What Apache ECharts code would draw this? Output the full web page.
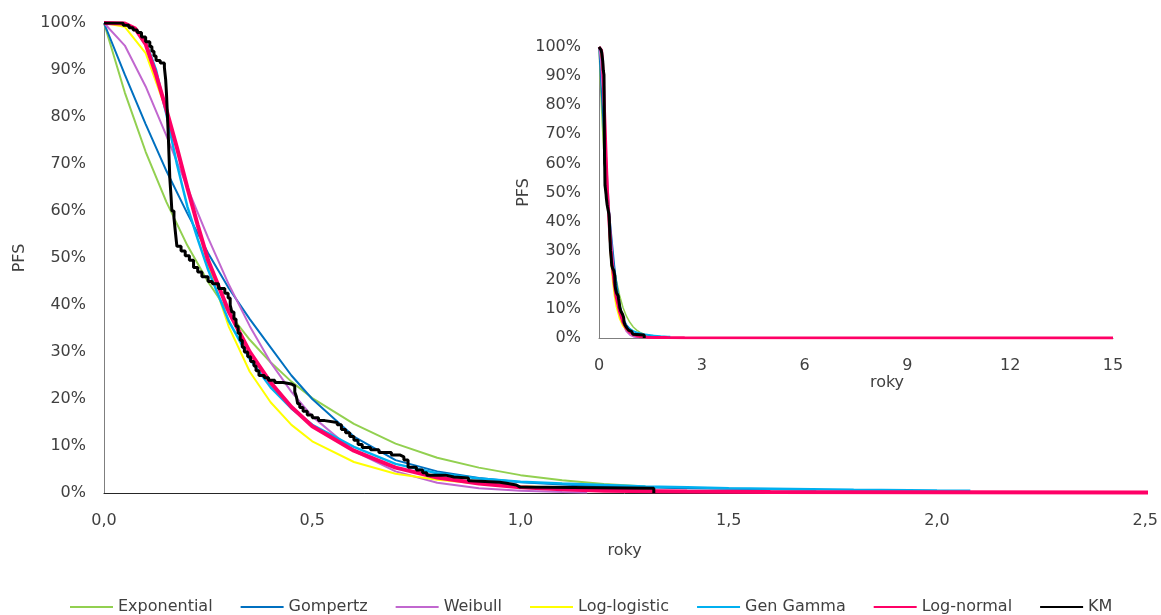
<!DOCTYPE html>
<html>
<head>
<meta charset="utf-8">
<script src="https://cdn.jsdelivr.net/npm/echarts@6/dist/echarts.min.js"></script>
<style>
  html, body { margin: 0; padding: 0; background: #ffffff; }
  #chart { width: 1161px; height: 615px; }
</style>
</head>
<body>
<div id="chart"></div>
<script>
// Survival (PFS, %) against time in years for each fitted model and the Kaplan–Meier estimate.

const expT  = [0, 0.05, 0.1, 0.15, 0.2, 0.25, 0.3, 0.35, 0.4, 0.45, 0.5, 0.6, 0.7, 0.8, 0.9, 1.0, 1.1, 1.2, 1.3];
const expS  = [100, 85.2, 72.6, 61.9, 52.7, 44.9, 38.3, 32.6, 27.8, 23.7, 20.2, 14.7, 10.5, 7.5, 5.4, 3.8, 2.7, 1.9, 1.4];

const gompT = [0, 0.05, 0.1, 0.15, 0.2, 0.25, 0.3, 0.35, 0.4, 0.45, 0.5, 0.6, 0.7, 0.8, 0.9, 1.0, 1.1, 1.2, 1.4, 1.6, 1.71];
const gompS = [100, 89, 78.5, 68.5, 59.5, 51, 43.5, 37, 31, 25, 20, 12, 7.0, 4.6, 3.2, 2.3, 1.8, 1.4, 1.0, 0.8, 0.7];

const weibT = [0, 0.05, 0.1, 0.15, 0.2, 0.25, 0.3, 0.35, 0.4, 0.45, 0.5, 0.6, 0.7, 0.8, 0.9, 1.0, 1.1, 1.16];
const weibS = [100, 95.2, 86.5, 76.0, 65.0, 54.3, 44.3, 35.5, 27.8, 21.5, 16.3, 8.9, 4.6, 2.2, 1.0, 0.46, 0.2, 0.12];

const llogT = [0, 0.05, 0.1, 0.15, 0.2, 0.25, 0.3, 0.35, 0.4, 0.45, 0.5, 0.6, 0.7, 0.8, 0.9, 1.0, 1.1, 1.2, 1.3];
const llogS = [100, 99.2, 93.6, 81.3, 64.8, 48.5, 35.3, 25.8, 19.3, 14.5, 11.0, 6.6, 4.1, 2.8, 2.0, 1.45, 1.1, 0.84, 0.66];

const ggamT = [0, 0.05, 0.075, 0.1, 0.125, 0.15, 0.175, 0.2, 0.225, 0.25, 0.3, 0.35, 0.4, 0.45, 0.5, 0.6, 0.7, 0.8, 0.9, 1.0, 1.1, 1.2, 1.3, 1.4, 1.5, 1.6, 1.8, 2.0, 2.08];
const ggamS = [100, 99.8, 98.8, 96, 90, 80.5, 70, 61, 54, 47.5, 36.5, 28.5, 22.5, 18, 14.5, 9.8, 6.2, 4.2, 3.1, 2.4, 2.0, 1.7, 1.4, 1.2, 1.0, 0.9, 0.7, 0.55, 0.5];

const lnorT = [0, 0.05, 0.075, 0.1, 0.125, 0.15, 0.175, 0.2, 0.225, 0.25, 0.3, 0.35, 0.4, 0.45, 0.5, 0.6, 0.7, 0.8, 0.9, 1.0, 1.1, 1.2, 1.4, 1.6, 2.0, 2.5, 15];
const lnorS = [100, 99.9, 98.8, 95.5, 89, 81.5, 73.5, 65, 57, 49.5, 38.5, 30, 23.5, 18.3, 14.2, 9, 5.4, 3.3, 2.0, 1.2, 0.8, 0.5, 0.3, 0.2, 0.15, 0.1, 0];

// Kaplan–Meier: value after each event time (drawn as a step function)
const kmT = [0, 0.046, 0.06, 0.07, 0.08, 0.09, 0.1, 0.11, 0.115, 0.12, 0.125, 0.135, 0.145, 0.148, 0.15, 0.152, 0.154, 0.156, 0.158, 0.161, 0.163, 0.168, 0.172, 0.175, 0.185, 0.195, 0.205, 0.215, 0.225, 0.235, 0.25, 0.26, 0.275, 0.29, 0.298, 0.303, 0.307, 0.312, 0.317, 0.322, 0.327, 0.332, 0.337, 0.345, 0.352, 0.36, 0.365, 0.372, 0.385, 0.395, 0.41, 0.43, 0.45, 0.458, 0.462, 0.465, 0.47, 0.478, 0.488, 0.5, 0.515, 0.53, 0.56, 0.57, 0.58, 0.59, 0.6, 0.61, 0.62, 0.64, 0.66, 0.69, 0.71, 0.72, 0.73, 0.75, 0.765, 0.775, 0.82, 0.84, 0.875, 0.88, 0.95, 0.97, 0.99, 0.998, 1.32];
const kmS = [100, 99.5, 99.0, 98.5, 98.0, 97.0, 96.0, 95.0, 94.0, 93.0, 92.0, 91.5, 90.5, 88, 85, 81, 77, 72, 67, 63, 60, 58.5, 55, 52.5, 51.5, 50.5, 49.5, 48, 47, 46, 45, 44.5, 43.5, 42.5, 41.5, 40, 38.5, 37, 35.5, 34, 32.5, 31, 30, 29, 28, 27, 26, 25, 24.5, 24, 23.5, 23.2, 22.8, 21.5, 20.5, 19, 18.2, 17.4, 16.6, 16, 15.4, 15, 14.5, 13.5, 12.8, 12, 11.2, 10.3, 9.7, 9.2, 8.6, 8.1, 7.7, 7.0, 5.5, 4.9, 4.3, 3.8, 3.4, 3.2, 2.6, 2.3, 2.0, 1.7, 1.3, 1.0, 0];

const seriesDefs = [
  { name: 'Exponential', t: expT,  s: expS,  color: '#92d050', width: 2,   insetWidth: 1.5 },
  { name: 'Gompertz',    t: gompT, s: gompS, color: '#0070c0', width: 2,   insetWidth: 1.5 },
  { name: 'Weibull',     t: weibT, s: weibS, color: '#c167cf', width: 2,   insetWidth: 1.5 },
  { name: 'Log-logistic',t: llogT, s: llogS, color: '#ffff00', width: 2,   insetWidth: 1.5 },
  { name: 'Gen Gamma',   t: ggamT, s: ggamS, color: '#00b0f0', width: 2.5, insetWidth: 1.5 },
  { name: 'Log-normal',  t: lnorT, s: lnorS, color: '#ff0066', width: 4,   insetWidth: 3 },
  { name: 'KM',          t: kmT,   s: kmS,   color: '#000000', width: 3,   insetWidth: 3, step: 'end' }
];

const FONT = 'DejaVu Sans';
const TXT = '#404040';

function pairs(t, s) { return t.map((x, i) => [x, s[i]]); }

const series = [];
seriesDefs.forEach(d => {
  [0, 1].forEach(g => {
    series.push({
      name: d.name,
      type: 'line',
      xAxisIndex: g,
      yAxisIndex: g,
      data: pairs(d.t, d.s),
      step: d.step || false,
      symbol: 'none',
      showSymbol: false,
      smooth: false,
      clip: true,
      lineStyle: { color: d.color, width: g === 0 ? d.width : d.insetWidth, join: 'bevel' },
      itemStyle: { color: d.color }
    });
  });
});

const pctAxis = (gridIndex, nameGap) => ({
  type: 'value', gridIndex, min: 0, max: 100, interval: 10,
  name: 'PFS', nameLocation: 'middle', nameGap,
  nameTextStyle: { fontFamily: FONT, fontSize: 16, color: TXT },
  axisLine: { show: true, lineStyle: { color: '#7f7f7f', width: 1 } },
  axisTick: { show: false },
  splitLine: { show: false },
  axisLabel: { formatter: '{value}%', margin: 18, fontFamily: FONT, fontSize: 16, color: TXT }
});

const chart = echarts.init(document.getElementById('chart'), null, { renderer: 'canvas' });
chart.setOption({
  animation: false,
  backgroundColor: '#ffffff',
  grid: [
    { left: 104, top: 23, width: 1043, height: 470 },
    { left: 599, top: 47, width: 514, height: 291 }
  ],
  xAxis: [
    {
      type: 'value', gridIndex: 0, min: 0, max: 2.5, interval: 0.5,
      name: 'roky', nameLocation: 'middle', nameGap: 50,
      nameTextStyle: { fontFamily: FONT, fontSize: 16, color: TXT },
      axisLine: { show: true, onZero: false, lineStyle: { color: '#262626', width: 1 } },
      axisTick: { show: false },
      splitLine: { show: false },
      axisLabel: { margin: 20, fontFamily: FONT, fontSize: 16, color: TXT,
        formatter: v => v.toFixed(1).replace('.', ',') }
    },
    {
      type: 'value', gridIndex: 1, min: 0, max: 15, interval: 3,
      name: 'roky', nameLocation: 'middle', nameGap: 36,
      nameTextStyle: { fontFamily: FONT, fontSize: 16, color: TXT, padding: [0, 0, 0, 62] },
      axisLine: { show: true, onZero: false, lineStyle: { color: '#7f7f7f', width: 1 } },
      axisTick: { show: false },
      splitLine: { show: false },
      axisLabel: { margin: 20, fontFamily: FONT, fontSize: 16, color: TXT }
    }
  ],
  yAxis: [pctAxis(0, 76), pctAxis(1, 66)],
  legend: {
    data: seriesDefs.map(d => d.name),
    left: 64, top: 594,
    itemWidth: 43, itemHeight: 14, itemGap: 27,
    itemStyle: { opacity: 0 },
    textStyle: { fontFamily: FONT, fontSize: 16, color: TXT }
  },
  series
});
</script>
</body>
</html>
